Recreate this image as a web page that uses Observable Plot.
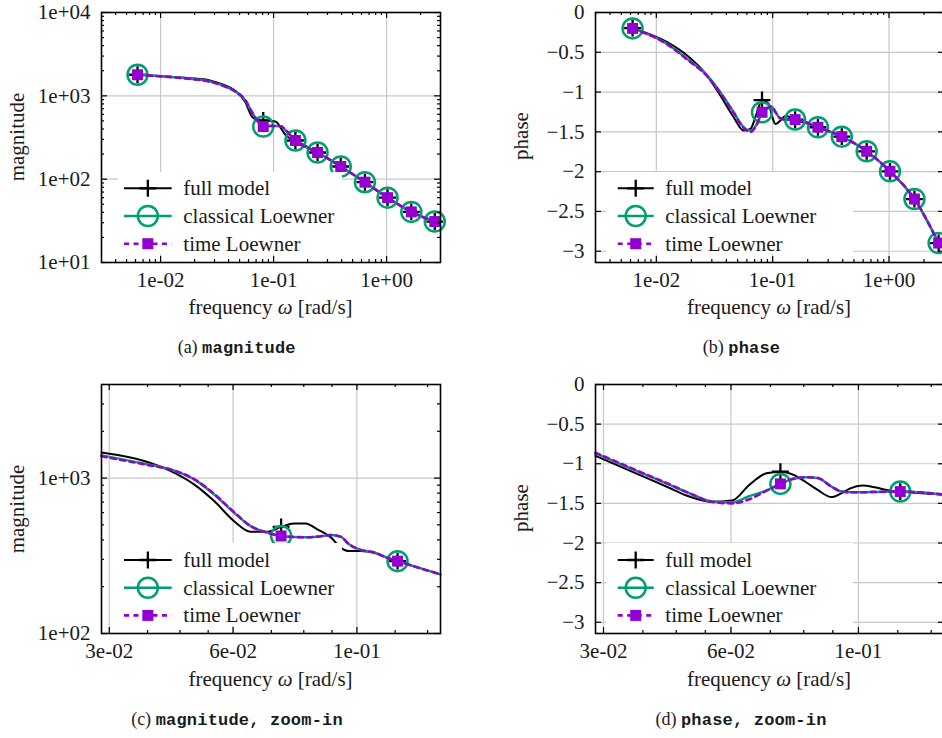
<!DOCTYPE html>
<html><head><meta charset="utf-8">
<script src="https://cdn.jsdelivr.net/npm/d3@7"></script>
<script src="https://cdn.jsdelivr.net/npm/@observablehq/plot@0.6"></script>
<style>
html,body{margin:0;padding:0;background:#fff;overflow:hidden;}
#root{position:relative;width:942px;height:738px;overflow:hidden;font-family:"Liberation Serif",serif;color:#1a1a1a;background:#fff;}
.t{position:absolute;white-space:nowrap;line-height:1;font-size:21px;}
.legend{position:absolute;background:#fff;}
.cap{position:absolute;white-space:nowrap;line-height:1;transform:translate(-50%,-50%);font-size:18px;}
.cap .tt{font-family:"Liberation Mono",monospace;font-size:17px;font-weight:bold;letter-spacing:0.2px;}
</style></head><body><div id="root"></div>
<script>
// ---------------- data ----------------
const SERIES = ["full model", "classical Loewner", "time Loewner"];
const COLORS = ["#000000", "#009e73", "#9400d3"];

// overview (panels a, b)
const OV_FREQ = [0.00625, 0.0124, 0.0184, 0.0273, 0.0355, 0.0462, 0.0563, 0.0643, 0.0734, 0.081, 0.0924, 0.0988, 0.1055, 0.1165, 0.1285, 0.156, 0.245, 0.393, 0.643, 1.02, 1.655, 2.67];
const OV_SAMPLES = [0.00625, 0.081, 0.156, 0.245, 0.393, 0.643, 1.02, 1.655, 2.67];
const MAG_FULL      = [1790, 1690, 1630, 1530, 1370, 1140, 840, 565, 510, 506, 503, 498, 488, 405, 335, 291, 209, 142, 92, 60, 40.5, 31];
const MAG_CLASSICAL = [1790, 1680, 1600, 1490, 1330, 1120, 880, 637, 485, 428, 435, 435, 435, 430, 384, 291, 209, 142, 92, 60, 40.5, 31];
const MAG_TIME      = [1790, 1675, 1595, 1480, 1325, 1120, 885, 640, 485, 428, 435, 435, 435, 430, 384, 291, 209, 142, 92, 60, 40.5, 31];
const PH_FULL      = [-0.197, -0.373, -0.541, -0.792, -1.044, -1.317, -1.484, -1.463, -1.254, -1.10, -1.149, -1.30, -1.40, -1.358, -1.30, -1.346, -1.442, -1.56, -1.744, -1.996, -2.344, -2.897];
const PH_CLASSICAL = [-0.20, -0.394, -0.583, -0.79, -1.002, -1.254, -1.44, -1.485, -1.40, -1.254, -1.20, -1.19, -1.25, -1.33, -1.345, -1.346, -1.442, -1.56, -1.744, -1.996, -2.344, -2.897];
const PH_TIME      = [-0.20, -0.40, -0.59, -0.80, -1.01, -1.26, -1.45, -1.50, -1.40, -1.254, -1.19, -1.18, -1.25, -1.33, -1.345, -1.346, -1.442, -1.56, -1.744, -1.996, -2.344, -2.897];

// zoom-in (panels c, d)
const Z_FREQ = [0.0305, 0.0372, 0.0421, 0.0469, 0.0515, 0.0565, 0.0610, 0.0660, 0.0703, 0.0746, 0.0788, 0.0832, 0.0885, 0.0927, 0.0964, 0.1017, 0.1082, 0.1151, 0.1208, 0.1475];
const Z_SAMPLES = [0.0703, 0.1208];
const ZMAG_FULL      = [1460, 1287, 1109, 911, 711, 528, 452, 452, 485, 511, 510, 468, 417, 357, 339, 339, 331, 307, 292, 240];
const ZMAG_CLASSICAL = [1400, 1238, 1137, 981, 785, 599, 491, 445, 424, 418, 416, 420, 430, 420, 375, 345, 333, 307, 292, 240];
const ZMAG_TIME      = [1380, 1225, 1132, 985, 790, 603, 491, 445, 424, 418, 416, 420, 430, 420, 375, 345, 333, 307, 292, 240];
const ZPH_FULL      = [-0.90, -1.14, -1.29, -1.42, -1.48, -1.465, -1.27, -1.12, -1.10, -1.14, -1.23, -1.33, -1.42, -1.37, -1.31, -1.275, -1.30, -1.338, -1.351, -1.39];
const ZPH_CLASSICAL = [-0.87, -1.105, -1.25, -1.38, -1.475, -1.486, -1.41, -1.338, -1.254, -1.19, -1.17, -1.18, -1.288, -1.351, -1.36, -1.36, -1.355, -1.352, -1.351, -1.39];
const ZPH_TIME      = [-0.86, -1.10, -1.245, -1.38, -1.48, -1.50, -1.45, -1.34, -1.254, -1.19, -1.17, -1.18, -1.288, -1.351, -1.36, -1.36, -1.355, -1.352, -1.351, -1.39];

// ticks
const OV_X_TICKS = [0.01, 0.1, 1];
const OV_X_LABELS = ["1e-02", "1e-01", "1e+00"];
const MAG_Y_TICKS = [10, 100, 1000, 10000];
const MAG_Y_LABELS = ["1e+01", "1e+02", "1e+03", "1e+04"];
const PH_Y_TICKS = [0, -0.5, -1, -1.5, -2, -2.5, -3];
const PH_Y_LABELS = ["0", "\u22120.5", "\u22121", "\u22121.5", "\u22122", "\u22122.5", "\u22123"];
const Z_X_TICKS = [Math.pow(10, -1.5), Math.pow(10, -1.25), 0.1];
const Z_X_LABELS = ["3e-02", "6e-02", "1e-01"];
const ZMAG_Y_TICKS = [100, 1000];
const ZMAG_Y_LABELS = ["1e+02", "1e+03"];

const CAPTIONS = [["(a)", "magnitude"], ["(b)", "phase"], ["(c)", "magnitude, zoom-in"], ["(d)", "phase, zoom-in"]];
const X_TITLE = 'frequency <i>\u03c9</i> [rad/s]';

// ---------------- helpers ----------------
const GRID = "#c8c8c8";
const FONT = '"Liberation Serif", serif';
const root = document.getElementById("root");

function logMinor(lo, hi) {
  const out = [];
  for (let e = Math.floor(Math.log10(lo)); e <= Math.ceil(Math.log10(hi)); e++)
    for (let k = 2; k <= 9; k++) { const v = k * Math.pow(10, e); if (v > lo && v < hi) out.push(v); }
  return out;
}
function subMinor(majors, n, lo, hi) {
  const out = [];
  for (let i = 0; i < majors.length - 1; i++) {
    const a = majors[i], b = majors[i + 1];
    for (let k = 1; k < n; k++) { const v = a + (b - a) * k / n; if (v > lo && v < hi) out.push(v); }
  }
  return out;
}

const LINE_STYLE = [
  {strokeWidth: 2, strokeDasharray: null},
  {strokeWidth: 2.5, strokeDasharray: null},
  {strokeWidth: 2.6, strokeDasharray: "5,4.5"}
];
const DOT_STYLE = [
  {symbol: "plus", r: 5.5, stroke: COLORS[0], strokeWidth: 2.3},
  {symbol: "circle", r: 10, stroke: COLORS[1], strokeWidth: 2.5, fill: "none"},
  {symbol: "square", r: 6.2, fill: COLORS[2], stroke: "none"}
];

function panel(o) {
  const fw = o.width - o.mL - o.mR, fh = o.height - o.mT - o.mB;
  const xl = new Map(o.xTicks.map((t, i) => [t, o.xLabels[i]]));
  const yl = new Map(o.yTicks.map((t, i) => [t, o.yLabels[i]]));
  const marks = [
    Plot.gridX(o.xTicks, {stroke: GRID, strokeOpacity: 1, strokeWidth: 1.2}),
    Plot.gridY(o.yTicks, {stroke: GRID, strokeOpacity: 1, strokeWidth: 1.2})
  ];
  o.series.forEach((vals, i) => {
    const data = o.freq.map((f, j) => ({f, v: vals[j], s: SERIES[i]}));
    const samp = data.filter(d => o.samples.includes(d.f));
    marks.push(Plot.line(data, {x: "f", y: "v", stroke: COLORS[i], ...LINE_STYLE[i], curve: "monotone-x"}));
    marks.push(Plot.dot(samp, {x: "f", y: "v", ...DOT_STYLE[i]}));
  });
  const tx = (vals, len) => [
    Plot.ruleX(vals, {insetTop: fh - len, stroke: "#000", strokeWidth: 1.2}),
    Plot.ruleX(vals, {insetBottom: fh - len, stroke: "#000", strokeWidth: 1.2})
  ];
  const ty = (vals, len) => [
    Plot.ruleY(vals, {insetRight: fw - len, stroke: "#000", strokeWidth: 1.2}),
    Plot.ruleY(vals, {insetLeft: fw - len, stroke: "#000", strokeWidth: 1.2})
  ];
  marks.push(...tx(o.xTicks, 6), ...tx(o.xMinor, 3), ...ty(o.yTicks, 6), ...ty(o.yMinor, 3));
  marks.push(Plot.axisX(o.xTicks, {anchor: "bottom", tickSize: 0, tickPadding: o.xPad, tickFormat: d => xl.get(d), label: null}));
  marks.push(Plot.axisY(o.yTicks, {anchor: "left", tickSize: 0, tickPadding: 11, tickFormat: d => yl.get(d), label: null}));
  marks.push(Plot.frame({stroke: "#000", strokeWidth: 1.6}));
  const svg = Plot.plot({
    width: o.width, height: o.height,
    marginLeft: o.mL, marginRight: o.mR, marginTop: o.mT, marginBottom: o.mB,
    x: {type: "log", domain: o.xDomain},
    y: {type: o.yType, domain: o.yDomain},
    style: {fontFamily: FONT, fontSize: "21px", color: "#1a1a1a", background: "none", overflow: "visible"},
    marks
  });
  svg.style.position = "absolute";
  svg.style.left = o.left + "px";
  svg.style.top = o.top + "px";
  root.appendChild(svg);
}

function text(html, cx, cy, rotate) {
  const d = document.createElement("div");
  d.className = "t";
  d.innerHTML = html;
  d.style.left = cx + "px";
  d.style.top = cy + "px";
  d.style.transform = "translate(-50%,-50%)" + (rotate ? " rotate(-90deg)" : "");
  root.appendChild(d);
}

function caption(c, cx, cy) {
  const d = document.createElement("div");
  d.className = "cap";
  d.innerHTML = c[0] + " <span class='tt'>" + c[1] + "</span>";
  d.style.left = cx + "px";
  d.style.top = cy + "px";
  root.appendChild(d);
}

function legend(left, top, w, h, sx0, sx1, textX, rowYs) {
  const box = document.createElement("div");
  box.className = "legend";
  Object.assign(box.style, {left: left + "px", top: top + "px", width: w + "px", height: h + "px"});
  const svg = d3.create("svg").attr("width", w).attr("height", h).style("position", "absolute").style("left", 0).style("top", 0).style("overflow", "visible");
  const mx = (sx0 + sx1) / 2 - left;
  SERIES.forEach((name, i) => {
    const y = rowYs[i] - top;
    svg.append("line").attr("x1", sx0 - left).attr("x2", sx1 - left).attr("y1", y).attr("y2", y)
      .attr("stroke", COLORS[i]).attr("stroke-width", LINE_STYLE[i].strokeWidth)
      .attr("stroke-dasharray", LINE_STYLE[i].strokeDasharray);
    if (i === 0) svg.append("path").attr("d", `M${mx - 8.5},${y}H${mx + 8.5}M${mx},${y - 8.5}V${y + 8.5}`).attr("stroke", COLORS[0]).attr("stroke-width", 2.3);
    if (i === 1) svg.append("circle").attr("cx", mx).attr("cy", y).attr("r", 10).attr("fill", "none").attr("stroke", COLORS[1]).attr("stroke-width", 2.5);
    if (i === 2) svg.append("rect").attr("x", mx - 5.5).attr("y", y - 5.5).attr("width", 11).attr("height", 11).attr("fill", COLORS[2]);
    const t = document.createElement("div");
    t.className = "t";
    t.textContent = name;
    Object.assign(t.style, {left: (textX - left) + "px", top: (y) + "px", transform: "translateY(-50%)"});
    box.appendChild(t);
  });
  box.appendChild(svg.node());
  root.appendChild(box);
}

// ---------------- panels ----------------
const OV_DOMAIN = [0.003, 3];
const Z_DOMAIN = [0.0305, 0.1475];
const Z_X_MINOR = subMinor([Math.pow(10, -1.5), Math.pow(10, -1.25), 0.1, Math.pow(10, -0.75)], 4, Z_DOMAIN[0], Z_DOMAIN[1]);

panel({left: 0, top: 0, width: 471, height: 300, mL: 101, mR: 31, mT: 12, mB: 38,
  xDomain: OV_DOMAIN, yType: "log", yDomain: [10, 10000],
  xTicks: OV_X_TICKS, xLabels: OV_X_LABELS, xMinor: logMinor(0.003, 3), xPad: 10,
  yTicks: MAG_Y_TICKS, yLabels: MAG_Y_LABELS, yMinor: logMinor(10, 10000),
  freq: OV_FREQ, samples: OV_SAMPLES, series: [MAG_FULL, MAG_CLASSICAL, MAG_TIME]});

panel({left: 471, top: 0, width: 490, height: 300, mL: 124, mR: 17, mT: 12, mB: 38,
  xDomain: OV_DOMAIN, yType: "linear", yDomain: [-Math.PI, 0],
  xTicks: OV_X_TICKS, xLabels: OV_X_LABELS, xMinor: logMinor(0.003, 3), xPad: 10,
  yTicks: PH_Y_TICKS, yLabels: PH_Y_LABELS, yMinor: [],
  freq: OV_FREQ, samples: OV_SAMPLES, series: [PH_FULL, PH_CLASSICAL, PH_TIME]});

panel({left: 0, top: 369, width: 471, height: 300, mL: 101, mR: 31, mT: 15, mB: 36,
  xDomain: Z_DOMAIN, yType: "log", yDomain: [100, 4000],
  xTicks: Z_X_TICKS, xLabels: Z_X_LABELS, xMinor: Z_X_MINOR, xPad: 10,
  yTicks: ZMAG_Y_TICKS, yLabels: ZMAG_Y_LABELS, yMinor: logMinor(100, 4000),
  freq: Z_FREQ, samples: Z_SAMPLES, series: [ZMAG_FULL, ZMAG_CLASSICAL, ZMAG_TIME]});

panel({left: 471, top: 369, width: 490, height: 300, mL: 124, mR: 17, mT: 15, mB: 36,
  xDomain: Z_DOMAIN, yType: "linear", yDomain: [-Math.PI, 0],
  xTicks: Z_X_TICKS, xLabels: Z_X_LABELS, xMinor: Z_X_MINOR, xPad: 10,
  yTicks: PH_Y_TICKS, yLabels: PH_Y_LABELS, yMinor: [],
  freq: Z_FREQ, samples: Z_SAMPLES, series: [ZPH_FULL, ZPH_CLASSICAL, ZPH_TIME]});

// legends
legend(118, 172, 224, 82, 124, 171.7, 183.3, [188.3, 216, 243.7]);
legend(606, 172, 247, 82, 617.7, 653.7, 665.3, [188.3, 216, 243.7]);
legend(118, 543, 224, 83, 124, 171.7, 183.3, [560, 587.7, 615.4]);
legend(606, 543, 247, 83, 617.7, 653.7, 665.3, [560, 587.7, 615.4]);

// axis titles
text("magnitude", 17, 137, true);
text("phase", 521, 136, true);
text("magnitude", 17, 509, true);
text("phase", 521, 508, true);
text(X_TITLE, 270.5, 307);
text(X_TITLE, 769, 307);
text(X_TITLE, 270.5, 679);
text(X_TITLE, 769, 679);

// captions
caption(CAPTIONS[0], 236.7, 347);
caption(CAPTIONS[1], 741.5, 347);
caption(CAPTIONS[2], 237, 719);
caption(CAPTIONS[3], 741, 719);
</script></body></html>
